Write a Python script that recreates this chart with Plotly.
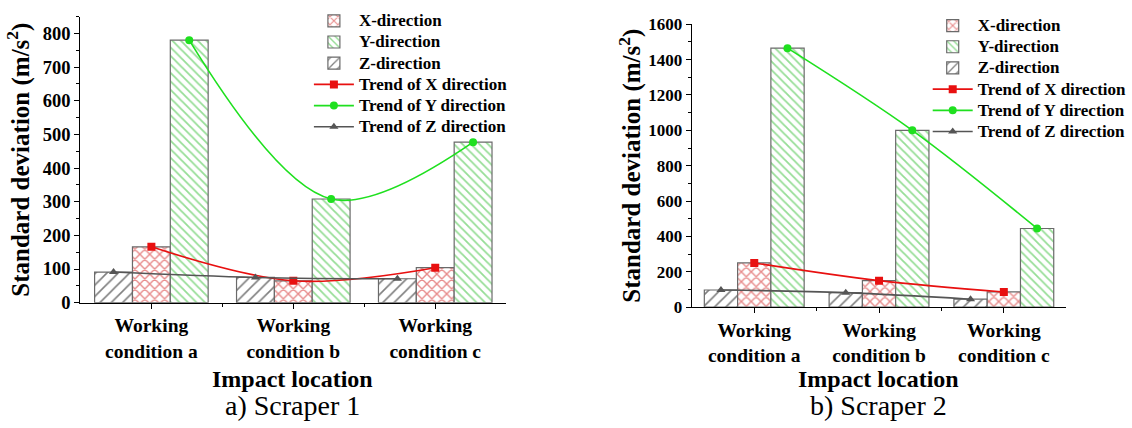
import plotly.graph_objects as go

# ---- data -------------------------------------------------------------
conditions = ["Working<br>condition a", "Working<br>condition b", "Working<br>condition c"]

s1_x = [166, 65, 104]
s1_y = [780, 308, 477]
s1_z = [91, 75, 71]

s2_x = [250, 150, 86]
s2_y = [1465, 1000, 445]
s2_z = [97, 82, 45]

panel_titles = ["a) Scraper 1", "b) Scraper 2"]
y_ranges = [[0, 850], [0, 1600]]
y_dticks = [100, 200]

# ---- styling ----------------------------------------------------------
SERIF = "Liberation Serif, Times New Roman, serif"
BAR_GAP = 0.2
N_GROUP = 3
BAR_W = (1 - BAR_GAP) / N_GROUP

RED = "#d01818"
GREEN = "#2dbb2d"
TREND_RED = "#e81010"
TREND_GREEN = "#1fe01f"
TREND_GRAY = "#555555"

pos = list(range(len(conditions)))

fig = go.Figure()


def legend_label(text):
    # legend rows are spaced from a smaller base font; the label itself is larger
    return "<span style='font-size:17px'>" + text + "</span>"


def add_panel(xv, yv, zv, xa, ya, legend):
    bars = [
        ("Z-direction", zv, "/", "#000000", 8, 0.2, 3),
        ("X-direction", xv, "x", RED, 7, 0.36, 1),
        ("Y-direction", yv, "\\", GREEN, 6, 0.3, 2),
    ]
    for name, vals, shape, col, size, sol, rank in bars:
        fig.add_trace(go.Bar(
            x=pos, y=vals, name=legend_label(name), xaxis=xa, yaxis=ya,
            legend=legend, legendrank=rank,
            marker=dict(color="white",
                        line=dict(color="#6a6a6a", width=1.2),
                        pattern=dict(shape=shape, fgcolor=col, bgcolor="white",
                                     size=size, solidity=sol)),
        ))
    trends = [
        ("Trend of X direction", xv, 0.0, TREND_RED, "square", 4),
        ("Trend of Y direction", yv, BAR_W, TREND_GREEN, "circle", 5),
        ("Trend of Z direction", zv, -BAR_W, TREND_GRAY, "triangle-up", 6),
    ]
    for name, vals, off, col, sym, rank in trends:
        fig.add_trace(go.Scatter(
            x=[p + off for p in pos], y=vals, name=legend_label(name),
            xaxis=xa, yaxis=ya, legend=legend, legendrank=rank,
            mode="lines+markers",
            line=dict(color=col, width=1.6, shape="spline", smoothing=1),
            marker=dict(color=col, symbol=sym, size=8),
        ))


add_panel(s1_x, s1_y, s1_z, "x", "y", "legend")
add_panel(s2_x, s2_y, s2_z, "x2", "y2", "legend2")

W, H = 1132, 428


def px_x(v):
    return v / W


def px_y(v):
    return 1 - v / H


xtick_font = dict(family=SERIF, size=19.5, color="black", weight="bold")
title_font = dict(family=SERIF, size=25, color="black", weight="bold")

common_x = dict(
    range=[-0.5, 2.5], tickmode="array", tickvals=pos, ticktext=conditions,
    showline=True, linecolor="black", linewidth=1.2, ticks="outside",
    ticklen=5, tickcolor="black", tickfont=xtick_font, showgrid=False,
    zeroline=False, fixedrange=True,
    minor=dict(tickmode="array", tickvals=[0.5, 1.5], ticks="outside",
               ticklen=3, tickcolor="black"),
)


def y_axis(i, anchor, domain, tick_size, standoff):
    return dict(
        range=y_ranges[i], dtick=y_dticks[i], domain=domain, anchor=anchor,
        showline=True, linecolor="black", linewidth=1.2, ticks="outside",
        ticklen=5, tickcolor="black", showgrid=False, zeroline=False,
        tickfont=dict(family=SERIF, size=tick_size, color="black", weight="bold"),
        minor=dict(dtick=y_dticks[i] / 2, ticks="outside", ticklen=3,
                   tickcolor="black"),
        title=dict(text="Standard deviation (m/s<sup>2</sup>)", font=title_font,
                   standoff=standoff),
    )


legend_common = dict(
    font=dict(family=SERIF, size=14, color="black", weight="bold"),
    bgcolor="rgba(0,0,0,0)", borderwidth=0, tracegroupgap=0,
    xanchor="left", yanchor="top", traceorder="normal", itemwidth=40,
)

fig.update_layout(
    width=W, height=H, margin=dict(l=0, r=0, t=0, b=0),
    paper_bgcolor="white", plot_bgcolor="white",
    barmode="group", bargap=BAR_GAP, bargroupgap=0,
    xaxis=dict(domain=[px_x(80.7), px_x(508)], anchor="y", **common_x),
    xaxis2=dict(domain=[px_x(694.3), px_x(1070)], anchor="y2", **common_x),
    yaxis=y_axis(0, "x", [px_y(307.3), px_y(8)], 18.5, 6),
    yaxis2=y_axis(1, "x2", [px_y(312), px_y(16)], 17, 0),
    legend=dict(x=px_x(310), y=px_y(-4), **legend_common),
    legend2=dict(x=px_x(931), y=px_y(1), **legend_common),
    showlegend=True,
)

ann_font_b = dict(family=SERIF, size=24, color="black", weight="bold")
ann_font = dict(family=SERIF, size=28, color="black")
for cx, title in zip([294, 882], panel_titles):
    fig.add_annotation(text="Impact location", x=px_x(cx), y=px_y(387),
                       xref="paper", yref="paper", showarrow=False,
                       xanchor="center", yanchor="middle", font=ann_font_b)
    fig.add_annotation(text=title, x=px_x(cx), y=px_y(415),
                       xref="paper", yref="paper", showarrow=False,
                       xanchor="center", yanchor="middle", font=ann_font)

fig.write_html("out.html")
